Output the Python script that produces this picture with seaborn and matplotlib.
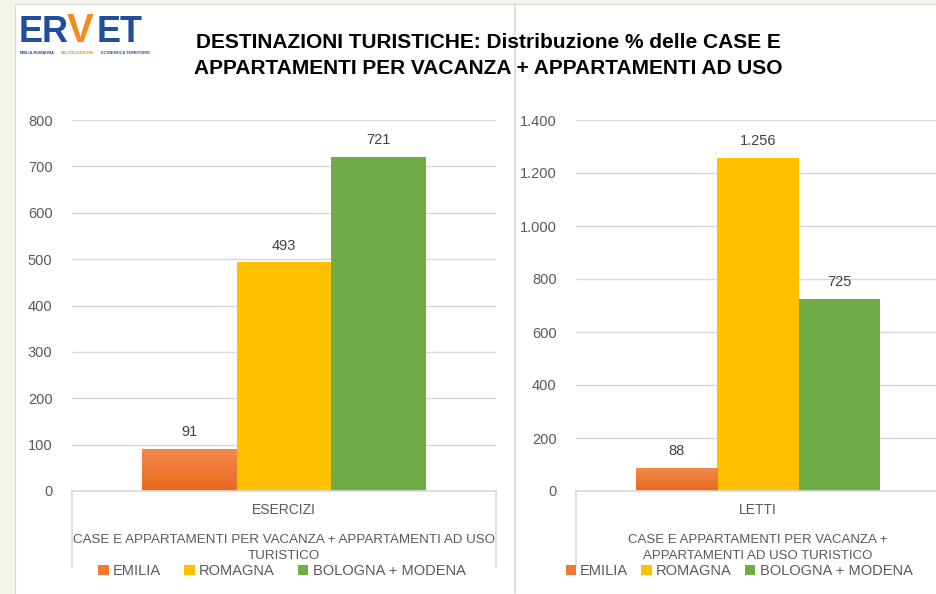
import matplotlib
matplotlib.use("Agg")
import matplotlib.pyplot as plt
import seaborn as sns
import pandas as pd
import numpy as np
from matplotlib.patches import Patch, Rectangle
from matplotlib.lines import Line2D
from matplotlib.colors import LinearSegmentedColormap

# ---- data ----
regions = ["EMILIA", "ROMAGNA", "BOLOGNA + MODENA"]
esercizi_values = [91, 493, 721]
letti_values = [88, 1256, 725]
left_category = "ESERCIZI"
right_category = "LETTI"
left_ticks = [0, 100, 200, 300, 400, 500, 600, 700, 800]
right_ticks = [0, 200, 400, 600, 800, 1000, 1200, 1400]
colors = ["#EE7B30", "#FFC000", "#70AD47"]
title_lines = ["DESTINAZIONI TURISTICHE: Distribuzione % delle CASE E",
               "APPARTAMENTI PER VACANZA + APPARTAMENTI AD USO"]
left_sub = "CASE E APPARTAMENTI PER VACANZA + APPARTAMENTI AD USO\nTURISTICO"
right_sub = "CASE E APPARTAMENTI PER VACANZA +\nAPPARTAMENTI AD USO TURISTICO"

sns.set_theme(style="white")
FONT = ["Liberation Sans", "DejaVu Sans"]
plt.rcParams["font.family"] = FONT

W, H = 937, 594
fig = plt.figure(figsize=(W / 100, H / 100), dpi=100, facecolor="#F3F5EB")

def fx(px):
    return px / W

def fy(py):
    return 1 - py / H

# white panel
fig.patches.append(Rectangle((fx(15), 0), 1 - fx(15), fy(4), transform=fig.transFigure,
                             facecolor="white", edgecolor="#D9D9D9", lw=0.8, zorder=-2))
# divider line
fig.add_artist(Line2D([fx(515), fx(515)], [0, fy(4)], transform=fig.transFigure,
                      color="#D9D9D9", lw=1.2, zorder=-1))

# logo
fig.text(fx(19), fy(50), "ER", color="#1F4E9A", fontsize=26, fontweight="bold",
         va="bottom")
fig.text(fx(67), fy(50), "V", color="#F28C1E", fontsize=29, fontweight="bold",
         va="bottom")
fig.text(fx(97), fy(50), "ET", color="#1F4E9A", fontsize=26, fontweight="bold",
         va="bottom")
fig.text(fx(20), fy(50.5), "EMILIA-ROMAGNA", color="#1F4E9A", fontsize=2.8,
         fontweight="bold", va="top")
fig.text(fx(61), fy(50.5), "VALORIZZAZIONE", color="#F28C1E", fontsize=2.8,
         fontweight="bold", va="top")
fig.text(fx(101), fy(50.5), "ECONOMICA TERRITORIO", color="#1F4E9A", fontsize=2.8,
         fontweight="bold", va="top")

# title
fig.text(fx(488), fy(42), title_lines[0], ha="center", va="center", fontsize=15,
         fontweight="bold", color="black")
fig.text(fx(488), fy(68), title_lines[1], ha="center", va="center", fontsize=15,
         fontweight="bold", color="black")

grad_cmap = LinearSegmentedColormap.from_list("og", ["#E8691E", "#F28A4E"])


def fmt_it(v):
    return f"{int(round(v)):,}".replace(",", ".")


def draw_panel(x0, x1, values, category, ticks, sub, sub_size, legend_cx, colsp):
    ax = fig.add_axes([fx(x0), fy(491), fx(x1) - fx(x0), fy(120) - fy(491)])
    df = pd.DataFrame({"cat": [category] * len(regions), "region": regions, "val": values})
    sns.barplot(data=df, x="cat", y="val", hue="region", hue_order=regions,
                palette=colors, width=0.67, ax=ax, legend=False, saturation=1,
                edgecolor="none")
    ax.set_facecolor("none")
    ax.set_ylim(0, ticks[-1])
    ax.set_xlim(-0.5, 0.5)
    ax.set_yticks(ticks)
    ax.set_yticklabels([fmt_it(t) for t in ticks], color="#595959", fontsize=10.5)
    ax.tick_params(axis="y", length=0, pad=14)
    ax.set_xticks([])
    ax.set_xlabel("")
    ax.set_ylabel("")
    ax.grid(axis="y", color="#D9D9D9", lw=1)
    ax.set_axisbelow(True)
    for s in ["top", "right", "left"]:
        ax.spines[s].set_visible(False)
    ax.spines["bottom"].set_color("#D9D9D9")
    ax.spines["bottom"].set_linewidth(1.2)
    # gradient on the first (EMILIA) bar
    p = ax.containers[0].patches[0]
    bx, by, bw, bh = p.get_x(), p.get_y(), p.get_width(), p.get_height()
    grad = np.linspace(0, 1, 64).reshape(-1, 1)
    im = ax.imshow(grad, cmap=grad_cmap, aspect="auto", origin="lower",
                   extent=(bx, bx + bw, by, by + bh), zorder=p.get_zorder() + 0.1)
    im.set_clip_path(p)
    ax.set_xlim(-0.5, 0.5)
    ax.set_ylim(0, ticks[-1])
    for c in ax.containers:
        ax.bar_label(c, labels=[fmt_it(v) for v in c.datavalues], padding=7,
                     color="#404040", fontsize=10.5)
    # category box lines
    hgt = fy(120) - fy(491)
    drop = (567 - 491) / H / hgt
    for xa in (0, 1):
        ax.plot([xa, xa], [0, -drop], transform=ax.transAxes, color="#D9D9D9",
                lw=1.2, clip_on=False)
    cx = (x0 + x1) / 2
    fig.text(fx(cx), fy(510), category, ha="center", va="center", fontsize=10,
             color="#595959")
    fig.text(fx(cx), fy(548), sub, ha="center", va="center", fontsize=sub_size,
             color="#595959", linespacing=1.5)
    handles = [Patch(facecolor=c, edgecolor="none") for c in colors]
    fig.legend(handles, regions, loc="center", bbox_to_anchor=(fx(legend_cx), fy(571)),
               ncol=3, frameon=False, fontsize=10.5, handlelength=0.7,
               handleheight=0.7, handletextpad=0.3, columnspacing=colsp,
               labelcolor="#595959")
    return ax

draw_panel(72, 496, esercizi_values, left_category, left_ticks, left_sub, 9.6, 282, 1.6)
draw_panel(576, 940, letti_values, right_category, right_ticks, right_sub, 9.5, 739, 0.9)

fig.savefig("out.png", dpi=100, facecolor=fig.get_facecolor())
